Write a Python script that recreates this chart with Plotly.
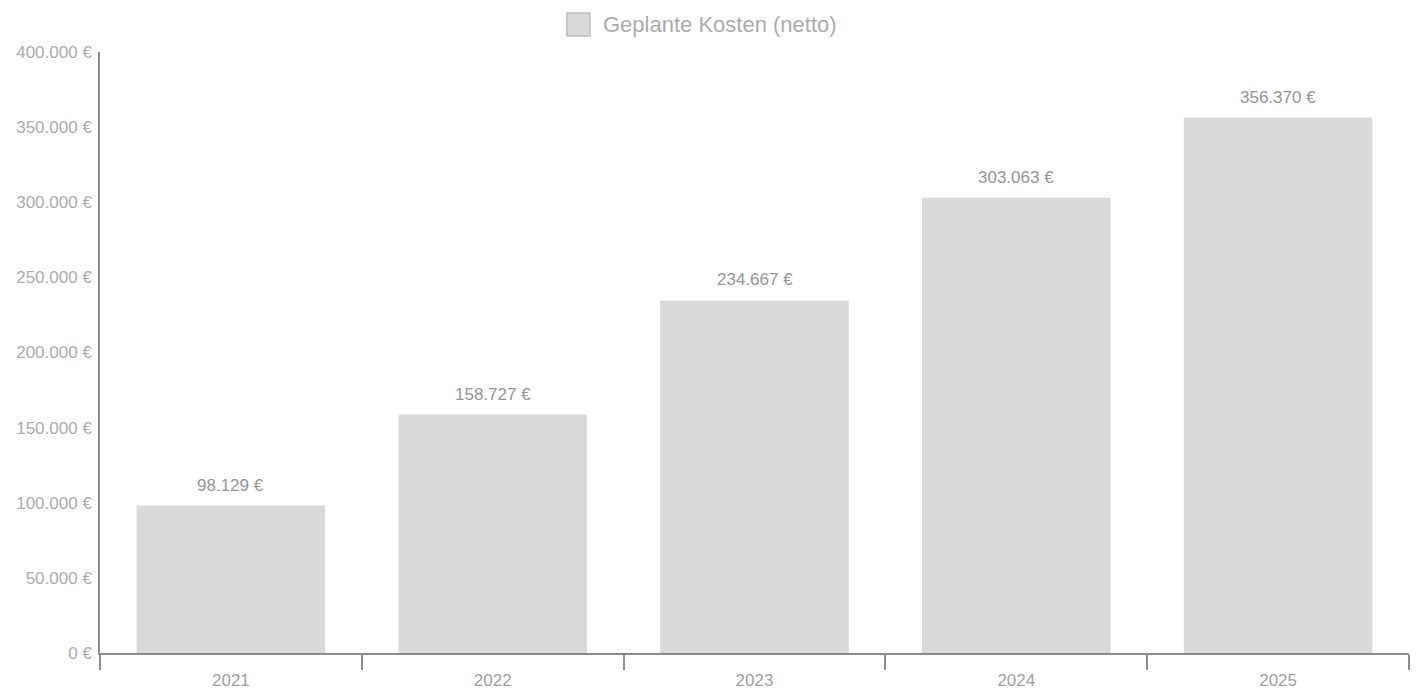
import plotly.graph_objects as go

years = ["2021", "2022", "2023", "2024", "2025"]
kosten = [98129, 158727, 234667, 303063, 356370]
series_name = "Geplante Kosten (netto)"
y_ticks = [0, 50000, 100000, 150000, 200000, 250000, 300000, 350000, 400000]

def fmt(v):
    return f"{v:,}".replace(",", ".") + " €"

font_family = "Liberation Sans, Arial, sans-serif"

fig = go.Figure()
fig.add_trace(go.Bar(
    x=years, y=kosten, name=series_name,
    marker=dict(color="#d9d9d9", line=dict(width=0)),
    showlegend=False, hoverinfo="x+y",
))

for i, v in enumerate(kosten):
    fig.add_annotation(x=i, y=v, text=fmt(v), showarrow=False,
                       yanchor="bottom", yshift=9,
                       font=dict(family=font_family, size=17, color="#959595"))

# legend (top centre)
fig.add_shape(type="rect", xref="paper", yref="paper",
              x0=(567-100)/1309, x1=(590-100)/1309,
              y0=(653-36)/601, y1=(653-13)/601,
              fillcolor="#d9d9d9", line=dict(color="#bdbdbd", width=1.5))
fig.add_annotation(xref="paper", yref="paper", x=(601-100)/1309, y=(653-24)/601,
                   xanchor="left", yanchor="middle", showarrow=False,
                   text=series_name,
                   font=dict(family=font_family, size=22, color="#ababab"))

fig.update_layout(
    width=1417, height=690,
    margin=dict(l=100, r=8, t=52, b=37, autoexpand=False),
    paper_bgcolor="white", plot_bgcolor="white",
    separators=",.",
    bargap=0.28,
    font=dict(family=font_family, color="#a0a0a0"),
    showlegend=False,
)
fig.update_xaxes(
    type="category", range=[-0.5, len(years) - 0.5],
    showline=True, linecolor="#8c8c8c", linewidth=1.5,
    ticks="outside", tickson="boundaries", ticklen=15, tickcolor="#8c8c8c", tickwidth=1.5,
    tickfont=dict(size=17, color="#a0a0a0", family=font_family),
    tickangle=0, ticklabelstandoff=11,
    showgrid=False, zeroline=False,
)
fig.update_yaxes(
    range=[0, 400000], tickvals=y_ticks, ticktext=[fmt(v) for v in y_ticks],
    showline=True, linecolor="#8c8c8c", linewidth=1.5,
    ticks="", showgrid=False, zeroline=False,
    ticklabelstandoff=3,
    tickfont=dict(size=17, color="#ababab", family=font_family),
)

fig.write_html("out.html")
